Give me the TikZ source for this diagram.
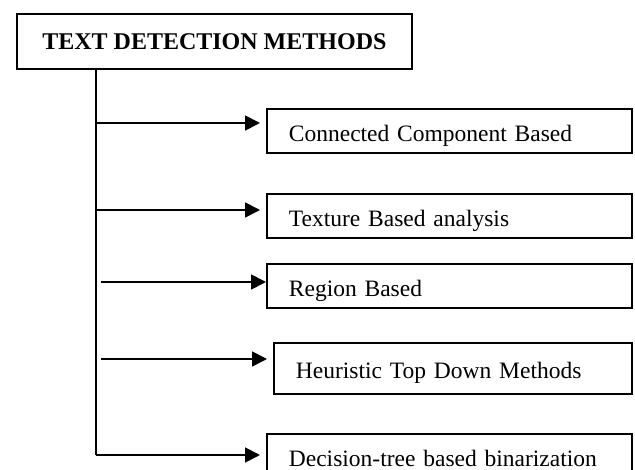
\documentclass[tikz,border=0pt]{standalone}
\usepackage{fontspec}
\setmainfont{Liberation Serif}
\usetikzlibrary{arrows.meta, positioning}

\begin{document}
\begin{tikzpicture}[x=1pt, y=-1pt,
    box/.style={draw, line width=1.8pt, anchor=north west, align=left,
        minimum height=44pt, inner xsep=22pt, inner ysep=2pt,
        text width=321pt, text height=21pt, text depth=0pt,
        font=\fontsize{23.5}{26}\selectfont},
    arr/.style={-{Triangle[length=15pt, width=15pt]}, line width=1.8pt}]
    \useasboundingbox (0,0) rectangle (635,470);

    % Khung tiêu đề
    \node[draw, line width=1.8pt, anchor=north west, minimum width=395pt,
        minimum height=55pt, font=\fontsize{24}{28}\selectfont\bfseries]
        (title) at (16,13) {TEXT DETECTION METHODS};

    % Các phương pháp
    \node[box] (cc) at (266,108) {Connected Component Based};
    \node[box] (tex) at (266,193) {Texture Based analysis};
    \node[box] (reg) at (266,263) {Region Based};
    \node[box, text width=314pt, minimum height=51pt] (heu) at (273,342) {Heuristic Top Down Methods};
    \node[box] (dec) at (266,433) {Decision-tree based binarization};

    % Trục dọc
    \coordinate (top) at (96,68);
    \coordinate (b1) at (96,123);
    \coordinate (b2) at (96,210);
    \coordinate (b3) at (101,282);
    \coordinate (b4) at (101,359);
    \coordinate (b5) at (96,455);
    \draw[line width=1.8pt] (top) -- (b5);

    % Mũi tên
    \draw[arr, shorten >=6pt] (b1) -- (b1 -| cc.west);
    \draw[arr, shorten >=6pt] (b2) -- (b2 -| tex.west);
    \draw[arr] (b3) -- (b3 -| reg.west);
    \draw[arr, shorten >=6pt] (b4) -- (b4 -| heu.west);
    \draw[arr, shorten >=6pt] (b5) -- (b5 -| dec.west);
\end{tikzpicture}
\end{document}
